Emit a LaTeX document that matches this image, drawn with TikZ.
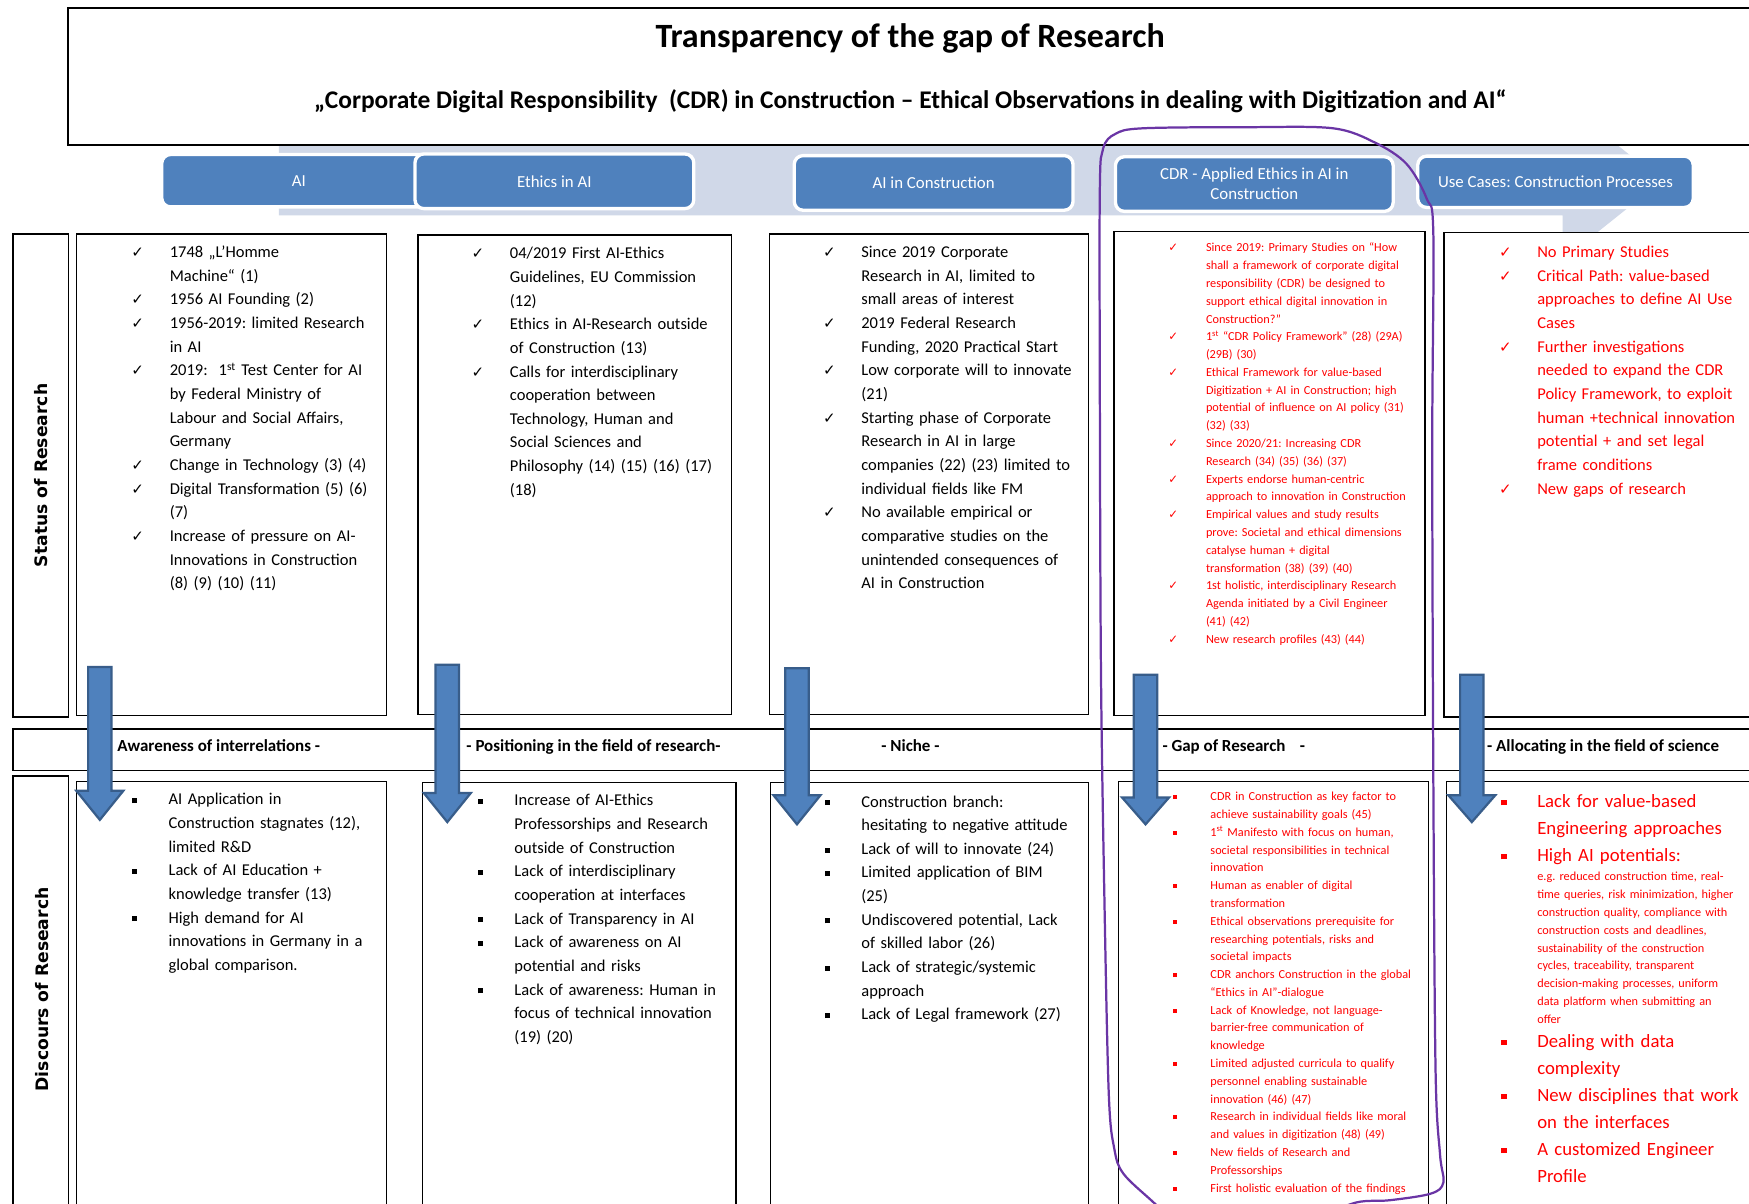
\documentclass[tikz,border=0pt]{standalone}
\usepackage{fontspec}
\setmainfont{Carlito}
\newfontfamily\symfont{DejaVu Sans}
\newfontfamily\labelfont{DejaVu Sans}
\frenchspacing

\definecolor{boxblue}{HTML}{4F81BD}
\definecolor{arrowedge}{HTML}{385D8A}
\definecolor{bandgrey}{HTML}{D0D8E8}
\definecolor{redtext}{HTML}{FF0000}
\definecolor{loopline}{HTML}{6A35A5}

% list markers: check marks and square bullets hanging left of the text
\newcommand\ck[1][23]{\leavevmode\llap{{\symfont\fontsize{13.5}{13.5}\selectfont ✓}\hspace{#1pt}}}
\newcommand\cks[1][25]{\leavevmode\llap{{\symfont\fontsize{10.5}{10.5}\selectfont ✓}\hspace{#1pt}}}
\newcommand\bl[1][28.5]{\leavevmode\llap{\raisebox{1.6pt}{\rule{4.5pt}{4.5pt}}\hspace{#1pt}}}
\newcommand\bls[1][30]{\leavevmode\llap{\raisebox{1.3pt}{\rule{3.6pt}{3.6pt}}\hspace{#1pt}}}
\newcommand\blb[1][27.5]{\leavevmode\llap{\raisebox{2pt}{\rule{5pt}{5pt}}\hspace{#1pt}}}

\tikzset{
  frame/.style={draw=black, line width=1.3pt, fill=white, anchor=north west, inner sep=0pt},
  tab/.style={draw=white, line width=3pt, fill=boxblue, rounded corners=8pt, text=white,
    font=\fontsize{15.1}{18}\selectfont, align=center, inner sep=0pt},
  body/.style={anchor=base west, text width=320pt, align=left, inner sep=0pt,
    font=\fontsize{14.8}{21.2}\selectfont},
  smalltext/.style={anchor=base west, text width=320pt, align=left, inner sep=0pt,
    font=\fontsize{11}{15.95}\selectfont, text=redtext},
  bigtext/.style={anchor=base west, text width=320pt, align=left, inner sep=0pt,
    font=\fontsize{16.8}{24.2}\selectfont, text=redtext},
  bandtext/.style={anchor=base west, inner sep=0pt, font=\bfseries\fontsize{15.2}{17}\selectfont},
  sidelabel/.style={rotate=90, inner sep=0pt, font=\labelfont\bfseries\fontsize{15.4}{16}\selectfont},
  downarrow/.style={fill=boxblue, draw=arrowedge, line width=2pt, line join=miter},
}

% block arrow pointing down: centre x, shaft top, head top, tip
\newcommand\downblock[4]{%
  \draw[downarrow] ({#1-10.5},#2) -- ({#1+10.5},#2) -- ({#1+10.5},#3) -- ({#1+21},#3)
    -- (#1,#4) -- ({#1-21},#3) -- ({#1-10.5},#3) -- cycle;}

\begin{document}
\begin{tikzpicture}[x=1pt, y=-1pt]
\clip (0,0) rectangle (1568,1079);
\fill[white] (0,0) rectangle (1568,1079);

% process arrow behind the topic tabs
\fill[bandgrey] (250,130) -- (1401,130) -- (1401,91) -- (1490,162) -- (1401,233)
  -- (1401,193) -- (250,193) -- cycle;

% heading frame
\node[frame, line width=1.8pt, minimum width=1530pt, minimum height=123pt] (head) at (60,6) {};
\node[anchor=base, inner sep=0pt, font=\bfseries\fontsize{30.5}{33}\selectfont] (ttl) at (816,43)
  {Transparency of the gap of Research};
\node[anchor=base, inner sep=0pt, font=\bfseries\fontsize{22.8}{25}\selectfont] (sub) at (816,97)
  {„Corporate Digital Responsibility\ \ (CDR) in Construction – Ethical Observations in dealing with Digitization and AI“};

% topic tabs
\node[tab, minimum width=246pt, minimum height=47pt] (tAI) at (268,162) {AI};
\node[tab, minimum width=250pt, minimum height=49pt] (tEth) at (497,162.5) {Ethics in AI};
\node[tab, minimum width=250pt, minimum height=49pt] (tCon) at (837,164) {AI in Construction};
\node[tab, minimum width=249pt, minimum height=49pt] (tCDR) at (1124.5,165) {CDR - Applied Ethics in AI in\\Construction};
\node[tab, minimum width=247pt, minimum height=46pt] (tUse) at (1394.5,163) {Use Cases: Construction Processes};

% status row
\node[frame, minimum width=50pt, minimum height=433pt] (lsr) at (11,209) {};
\node[sidelabel] (lsrt) at (lsr.center) {Status of Research};
\node[frame, minimum width=278pt, minimum height=432pt] (s1) at (68,209) {};
\node[frame, minimum width=281pt, minimum height=430pt] (s2) at (374,210) {};
\node[frame, minimum width=286pt, minimum height=431pt] (s3) at (689,209) {};
\node[frame, minimum width=279pt, minimum height=434pt] (s4) at (998,207) {};
\node[frame, minimum width=300pt, minimum height=434pt] (s5) at (1294,208) {};

% separating band
\node[frame, minimum width=1580pt, minimum height=37pt] (bandrow) at (11,653) {};

% discourse row
\node[frame, minimum width=50pt, minimum height=400pt] (ldr) at (11,695) {};
\node[sidelabel] (ldrt) at (38,887) {Discours of Research};
\node[frame, minimum width=278pt, minimum height=400pt] (d1) at (68,700) {};
\node[frame, minimum width=281pt, minimum height=400pt] (d2) at (378,701) {};
\node[frame, minimum width=285pt, minimum height=400pt] (d3) at (690,701) {};
\node[frame, minimum width=278pt, minimum height=400pt] (d4) at (1002,700) {};
\node[frame, minimum width=300pt, minimum height=400pt] (d5) at (1296,700) {};

% band labels
\node[bandtext] (b1) at (105,674) {Awareness of interrelations -};
\node[bandtext] (b2) at (418,674) {- Positioning in the field of research-};
\node[bandtext] (b3) at (790,674) {- Niche -};
\node[bandtext] (b4) at (1042,674) {- Gap of Research\hspace{13pt}-};
\node[bandtext] (b5) at (1333,674) {- Allocating in the field of science};

% status texts
\node[body] (s1t) at (152,231) {\ck 1748 „L’Homme\\ Machine“ (1)\\ \ck 1956 AI Founding (2)\\
  \ck 1956-2019: limited Research\\ in AI\\ \ck 2019:\ \ 1\textsuperscript{st} Test Center for AI\\
  by Federal Ministry of\\ Labour and Social Affairs,\\ Germany\\ \ck Change in Technology (3) (4)\\
  \ck Digital Transformation (5) (6)\\ (7)\\ \ck Increase of pressure on AI-\\
  Innovations in Construction\\ (8) (9) (10) (11)};
\node[body] (s2t) at (457,232) {\ck 04/2019 First AI-Ethics\\ Guidelines, EU Commission\\ (12)\\
  \ck Ethics in AI-Research outside\\ of Construction (13)\\ \ck Calls for interdisciplinary\\
  cooperation between\\ Technology, Human and\\ Social Sciences and\\
  Philosophy (14) (15) (16) (17)\\ (18)};
\node[body] (s3t) at (772,231) {\ck Since 2019 Corporate\\ Research in AI, limited to\\ small areas of interest\\
  \ck 2019 Federal Research\\ Funding, 2020 Practical Start\\ \ck Low corporate will to innovate\\ (21)\\
  \ck Starting phase of Corporate\\ Research in AI in large\\ companies (22) (23) limited to\\
  individual fields like FM\\ \ck No available empirical or\\ comparative studies on the\\
  unintended consequences of\\ AI in Construction};
\node[smalltext] (s4t) at (1081,225.8) {\cks Since 2019: Primary Studies on “How\\ shall a framework of corporate digital\\
  responsibility (CDR) be designed to\\ support ethical digital innovation in\\ Construction?”\\
  \cks 1\textsuperscript{st} “CDR Policy Framework” (28) (29A)\\ (29B) (30)\\
  \cks Ethical Framework for value-based\\ Digitization + AI in Construction; high\\
  potential of influence on AI policy (31)\\ (32) (33)\\ \cks Since 2020/21: Increasing CDR\\
  Research (34) (35) (36) (37)\\ \cks Experts endorse human-centric\\
  approach to innovation in Construction\\ \cks Empirical values and study results\\
  prove: Societal and ethical dimensions\\ catalyse human + digital\\ transformation (38) (39) (40)\\
  \cks 1st holistic, interdisciplinary Research\\ Agenda initiated by a Civil Engineer\\ (41) (42)\\
  \cks New research profiles (43) (44)};
\node[body, text=redtext] (s5t) at (1378,231) {\ck No Primary Studies\\ \ck Critical Path: value-based\\
  approaches to define AI Use\\ Cases\\ \ck Further investigations\\ needed to expand the CDR\\
  Policy Framework, to exploit\\ human +technical innovation\\ potential + and set legal\\
  frame conditions\\ \ck New gaps of research};

% discourse texts
\node[body] (d1t) at (151,721.5) {\bl AI Application in\\ Construction stagnates (12),\\ limited R\&D\\
  \bl Lack of AI Education +\\ knowledge transfer (13)\\ \bl High demand for AI\\
  innovations in Germany in a\\ global comparison.};
\node[body] (d2t) at (461,722.5) {\bl Increase of AI-Ethics\\ Professorships and Research\\
  outside of Construction\\ \bl Lack of interdisciplinary\\ cooperation at interfaces\\
  \bl Lack of Transparency in AI\\ \bl Lack of awareness on AI\\ potential and risks\\
  \bl Lack of awareness: Human in\\ focus of technical innovation\\ (19) (20)};
\node[body] (d3t) at (772,723.5) {\bl Construction branch:\\ hesitating to negative attitude\\
  \bl Lack of will to innovate (24)\\ \bl Limited application of BIM\\ (25)\\
  \bl Undiscovered potential, Lack\\ of skilled labor (26)\\ \bl Lack of strategic/systemic\\
  approach\\ \bl Lack of Legal framework (27)};
\node[smalltext] (d4t) at (1085,717.8) {\bls CDR in Construction as key factor to\\
  achieve sustainability goals (45)\\ \bls 1\textsuperscript{st} Manifesto with focus on human,\\
  societal responsibilities in technical\\ innovation\\ \bls Human as enabler of digital\\
  transformation\\ \bls Ethical observations prerequisite for\\ researching potentials, risks and\\
  societal impacts\\ \bls CDR anchors Construction in the global\\ “Ethics in AI”-dialogue\\
  \bls Lack of Knowledge, not language-\\ barrier-free communication of\\ knowledge\\
  \bls Limited adjusted curricula to qualify\\ personnel enabling sustainable\\ innovation (46) (47)\\
  \bls Research in individual fields like moral\\ and values in digitization (48) (49)\\
  \bls New fields of Research and\\ Professorships\\ \bls First holistic evaluation of the findings};
\node[bigtext] (d5a) at (1378,724) {\blb Lack for value-based\\ Engineering approaches\\ \blb High AI potentials:};
\node[smalltext] (d5b) at (1378,789.8) {e.g. reduced construction time, real-\\ time queries, risk minimization, higher\\
  construction quality, compliance with\\ construction costs and deadlines,\\
  sustainability of the construction\\ cycles, traceability, transparent\\
  decision-making processes, uniform\\ data platform when submitting an\\ offer};
\node[bigtext] (d5c) at (1378,939) {\blb Dealing with data\\ complexity\\ \blb New disciplines that work\\
  on the interfaces\\ \blb A customized Engineer\\ Profile};

% downward block arrows from status to discourse
\downblock{89.5}{598}{709}{735}
\downblock{401}{596}{711}{737}
\downblock{714.5}{599}{713}{739}
\downblock{1027}{605}{715}{739}
\downblock{1319.5}{605}{713}{737}

% hand-drawn outline around the CDR column
\draw[loopline, line width=2pt, line cap=round] plot[smooth, tension=0.55] coordinates {
  (1050,1092) (1032,1076) (1007,1052) (999,1030) (994,980) (990,800) (987,600) (986,350)
  (986,170) (989,133) (1000,120) (1025,115) (1120,114) (1195,115) (1233,128) (1261,147)
  (1279,178) (1285,210) (1284,400) (1285,700) (1287,960) (1291,1035) (1294,1060)
  (1283,1070) (1246,1076) (1216,1078) (1180,1092)};
\end{tikzpicture}
\end{document}
